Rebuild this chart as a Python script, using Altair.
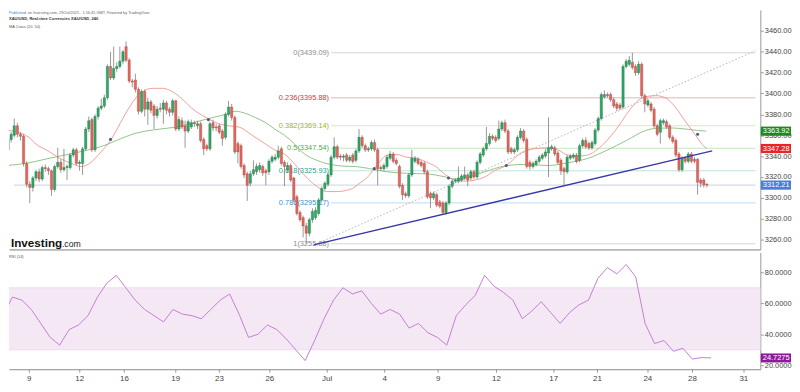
import altair as alt
import pandas as pd

# ---------------- data ----------------
opens = [
    3346, 3356, 3360, 3369, 3361, 3359, 3333, 3313, 3310, 3319,
    3325, 3318, 3329, 3328, 3326, 3308, 3330, 3334, 3327, 3329,
    3329, 3341, 3346, 3333, 3333, 3347, 3366, 3375, 3346, 3378,
    3386, 3388, 3396, 3426, 3415, 3424, 3426, 3431, 3445, 3432,
    3412, 3413, 3404, 3383, 3402, 3385, 3392, 3388, 3379, 3386,
    3385, 3391, 3385, 3382, 3393, 3366, 3374, 3369, 3364, 3368,
    3372, 3369, 3371, 3356, 3350, 3347, 3372, 3368, 3369, 3364,
    3358, 3380, 3387, 3377, 3352, 3350, 3331, 3323, 3314, 3323,
    3325, 3327, 3330, 3326, 3325, 3335, 3337, 3339, 3347, 3334,
    3327, 3331, 3319, 3301, 3286, 3281, 3273, 3266, 3279, 3281,
    3285, 3298, 3309, 3313, 3322, 3339, 3349, 3340, 3339, 3341,
    3336, 3341, 3336, 3345, 3358, 3350, 3346, 3347, 3353, 3346,
    3329, 3328, 3330, 3338, 3342, 3336, 3330, 3312, 3304, 3302,
    3322, 3335, 3337, 3334, 3333, 3325, 3304, 3300, 3303, 3296,
    3295, 3286, 3295, 3311, 3316, 3316, 3317, 3319, 3322, 3319,
    3325, 3320, 3334, 3341, 3347, 3352, 3359, 3358, 3357, 3366,
    3372, 3364, 3347, 3344, 3346, 3358, 3364, 3356, 3334, 3330,
    3332, 3335, 3338, 3340, 3343, 3347, 3348, 3343, 3336, 3328,
    3325, 3338, 3339, 3341, 3336, 3350, 3355, 3352, 3348, 3352,
    3365, 3376, 3397, 3399, 3399, 3394, 3390, 3389, 3387, 3426,
    3428, 3430, 3426, 3420, 3428, 3398, 3389, 3390, 3385, 3369,
    3363, 3372, 3373, 3369, 3358, 3355, 3342, 3327, 3338, 3335,
    3342, 3337, 3337, 3317, 3317, 3313]
closes = [
    3356, 3361, 3369, 3361, 3359, 3333, 3313, 3310, 3319, 3325,
    3318, 3329, 3328, 3326, 3308, 3330, 3334, 3327, 3329, 3330,
    3341, 3346, 3333, 3334, 3347, 3366, 3374, 3346, 3378, 3386,
    3388, 3396, 3426, 3415, 3424, 3426, 3431, 3440, 3432, 3412,
    3411, 3404, 3383, 3402, 3385, 3392, 3384, 3379, 3385, 3385,
    3391, 3384, 3382, 3393, 3366, 3375, 3368, 3364, 3373, 3372,
    3371, 3371, 3355, 3347, 3347, 3371, 3367, 3367, 3363, 3357,
    3380, 3387, 3377, 3344, 3344, 3330, 3322, 3312, 3323, 3327,
    3330, 3331, 3324, 3324, 3335, 3339, 3339, 3345, 3333, 3330,
    3331, 3317, 3298, 3285, 3279, 3273, 3266, 3279, 3287, 3288,
    3298, 3309, 3314, 3322, 3339, 3349, 3339, 3339, 3340, 3336,
    3339, 3335, 3345, 3358, 3350, 3346, 3347, 3353, 3346, 3328,
    3328, 3331, 3339, 3342, 3335, 3333, 3311, 3303, 3302, 3322,
    3338, 3338, 3333, 3331, 3325, 3301, 3300, 3304, 3293, 3292,
    3286, 3295, 3311, 3316, 3317, 3319, 3321, 3322, 3317, 3325,
    3320, 3334, 3342, 3347, 3352, 3359, 3357, 3355, 3366, 3372,
    3364, 3344, 3344, 3346, 3358, 3364, 3355, 3330, 3330, 3333,
    3335, 3339, 3341, 3344, 3348, 3349, 3342, 3334, 3326, 3325,
    3339, 3340, 3341, 3335, 3350, 3355, 3349, 3348, 3353, 3365,
    3376, 3399, 3399, 3398, 3394, 3388, 3386, 3386, 3426, 3431,
    3432, 3425, 3420, 3428, 3398, 3390, 3393, 3384, 3369, 3361,
    3374, 3374, 3368, 3358, 3354, 3341, 3327, 3338, 3335, 3342,
    3335, 3335, 3315, 3314, 3312.5, 3312.21]
highs = [
    3360, 3363, 3376, 3372, 3363, 3361, 3335, 3316, 3321, 3327,
    3328, 3331, 3332, 3330, 3327, 3332, 3348, 3337, 3347, 3332,
    3343, 3348, 3348, 3336, 3349, 3368, 3378, 3377, 3380, 3388,
    3395, 3399, 3428, 3440, 3445, 3430, 3445, 3442, 3450, 3434,
    3414, 3419, 3406, 3404, 3404, 3396, 3394, 3390, 3388, 3391,
    3394, 3393, 3387, 3395, 3394, 3378, 3377, 3374, 3375, 3375,
    3374, 3374, 3373, 3358, 3352, 3373, 3375, 3371, 3371, 3366,
    3382, 3393, 3390, 3379, 3354, 3352, 3333, 3325, 3326, 3336,
    3333, 3334, 3332, 3328, 3337, 3341, 3342, 3350, 3349, 3336,
    3334, 3333, 3320, 3303, 3288, 3283, 3276, 3281, 3290, 3291,
    3300, 3311, 3316, 3324, 3341, 3358, 3351, 3342, 3342, 3343,
    3341, 3343, 3347, 3366, 3360, 3352, 3349, 3355, 3356, 3348,
    3331, 3333, 3341, 3345, 3344, 3338, 3332, 3314, 3306, 3324,
    3346, 3340, 3339, 3336, 3335, 3327, 3306, 3306, 3305, 3298,
    3297, 3297, 3313, 3318, 3319, 3330, 3323, 3330, 3324, 3327,
    3327, 3336, 3344, 3349, 3368, 3362, 3361, 3360, 3374, 3374,
    3375, 3366, 3349, 3348, 3360, 3367, 3366, 3358, 3336, 3335,
    3337, 3341, 3343, 3347, 3377, 3351, 3350, 3345, 3338, 3330,
    3341, 3342, 3343, 3343, 3352, 3357, 3358, 3354, 3355, 3367,
    3378, 3401, 3403, 3401, 3401, 3396, 3392, 3391, 3428, 3433,
    3436, 3439.09, 3428, 3431, 3430, 3400, 3395, 3392, 3387, 3371,
    3376, 3376, 3375, 3371, 3360, 3357, 3344, 3340, 3340, 3344,
    3344, 3339, 3338, 3319, 3319, 3314]
lows = [
    3343, 3353, 3358, 3358, 3355, 3330, 3310, 3295, 3306, 3316,
    3315, 3316, 3325, 3322, 3302, 3306, 3328, 3324, 3325, 3317,
    3327, 3339, 3331, 3326, 3322, 3345, 3363, 3344, 3344, 3375,
    3384, 3386, 3394, 3413, 3413, 3421, 3424, 3428, 3430, 3410,
    3406, 3401, 3380, 3381, 3378, 3370, 3381, 3366, 3376, 3382,
    3371, 3380, 3378, 3379, 3364, 3364, 3366, 3348, 3362, 3366,
    3368, 3366, 3353, 3341, 3345, 3345, 3364, 3364, 3361, 3350,
    3356, 3378, 3374, 3342, 3333, 3328, 3319, 3297, 3311, 3321,
    3322, 3324, 3321, 3312, 3322, 3333, 3335, 3337, 3331, 3311,
    3324, 3315, 3296, 3283, 3277, 3262, 3255.88, 3263, 3276, 3279,
    3283, 3296, 3307, 3311, 3320, 3337, 3337, 3336, 3335, 3334,
    3334, 3333, 3334, 3343, 3348, 3344, 3344, 3345, 3344, 3312,
    3326, 3326, 3328, 3336, 3333, 3331, 3309, 3298, 3300, 3300,
    3320, 3333, 3331, 3329, 3323, 3299, 3290, 3298, 3291, 3290,
    3284, 3284, 3293, 3309, 3314, 3314, 3315, 3317, 3311, 3317,
    3318, 3318, 3332, 3339, 3345, 3350, 3355, 3353, 3355, 3364,
    3362, 3342, 3342, 3342, 3344, 3356, 3353, 3328, 3327, 3328,
    3330, 3333, 3336, 3338, 3320, 3345, 3340, 3332, 3322, 3312,
    3323, 3336, 3337, 3333, 3334, 3348, 3347, 3346, 3346, 3350,
    3363, 3374, 3395, 3396, 3392, 3386, 3383, 3384, 3385, 3424,
    3426, 3423, 3417, 3418, 3396, 3382, 3387, 3382, 3367, 3359,
    3352, 3370, 3366, 3356, 3352, 3339, 3325, 3325, 3333, 3333,
    3333, 3333, 3303, 3310, 3310, 3310]

# moving averages (candle index, price)
ma20_idx = [-0.6, 5.7, 9.7, 12.9, 16.0, 20.4, 23.6, 26.7, 29.9, 33.0,
            36.2, 39.3, 41.2, 43.4, 46.5, 49.7, 52.8, 56.0, 59.1, 63.8,
            67.9, 71.1, 74.2, 78.6, 82.7, 85.8, 89.0, 92.1, 95.3, 99.4,
            102.5, 105.7, 110.1, 113.2, 116.4, 117.9, 119.8, 122.0, 125.2, 128.3,
            131.4, 134.6, 137.7, 140.9, 144.0, 147.2, 150.3, 153.5, 156.6, 160.4,
            165.1, 169.2, 173.9, 177.0, 180.2, 183.3, 186.5, 189.6, 192.8, 195.9,
            199.1, 202.2, 205.3, 208.5, 211.6, 214.8, 217.9, 221.1, 224.2, 225.0]
ma20_val = [3365, 3360, 3350, 3345, 3339, 3333, 3330, 3334, 3344, 3355,
            3372, 3388, 3396, 3402, 3405, 3405, 3402, 3395, 3386, 3377,
            3371, 3369, 3368, 3360, 3352, 3346, 3342, 3333, 3322, 3311,
            3306, 3306, 3308, 3314, 3322, 3328, 3335, 3341, 3341.5, 3339,
            3338, 3334.5, 3330, 3322, 3317, 3316, 3317, 3320, 3326, 3331,
            3343, 3347, 3348, 3346, 3341, 3340, 3341, 3346, 3355, 3366,
            3380, 3391.5, 3397, 3398, 3396, 3387, 3374, 3361, 3349, 3347.28]
ma50_idx = [-0.6, 5.7, 11.9, 18.2, 24.5, 30.8, 34.9, 41.2, 46.5, 51.9,
            56.0, 59.7, 64.5, 70.1, 73.3, 76.4, 79.6, 82.7, 85.8, 89.0,
            92.1, 95.3, 99.4, 103.8, 107.9, 111.9, 116.4, 122.0, 128.3, 134.6,
            140.9, 144.0, 147.2, 153.5, 159.7, 166.0, 173.9, 180.2, 186.5, 192.8,
            199.1, 205.3, 209.4, 213.8, 217.9, 222.0, 224.8]
ma50_val = [3331, 3333, 3337, 3341, 3345, 3350, 3355, 3362, 3365, 3367,
            3369, 3372, 3376, 3380, 3383, 3381, 3377, 3372.5, 3366, 3360,
            3352, 3342.4, 3336, 3332, 3330.4, 3330, 3328, 3325, 3323.5, 3323,
            3320, 3318, 3319, 3325, 3330.4, 3332, 3331, 3333.6, 3337.7, 3345.6,
            3355, 3364.6, 3366.8, 3367, 3366, 3364.6, 3363.92]
cross_idx = [33.0, 64.5, 117.9, 141.8, 160.4, 222.0]
cross_price = [3356, 3375, 3328, 3319, 3331, 3361]

# Fibonacci retracement
fib_levels = ["0", "0.236", "0.382", "0.5", "0.618", "0.786", "1"]
fib_prices = [3439.09, 3395.88, 3369.14, 3347.54, 3325.93, 3295.17, 3255.88]
fib_text_colors = ["#8c8c8c", "#c8413c", "#9db22f", "#4fae4f", "#2f9f8f", "#3f8fc4", "#8c8c8c"]
fib_line_colors = ["#d6d6d6", "#e6b3b1", "#e2e8b4", "#c4e4c0", "#bfe2dc", "#c2dcec", "#d6d6d6"]

trend_idx = [98.4, 226.7]
trend_price = [3255, 3345]
diag_idx = [99.4, 240.6]
diag_price = [3256, 3441]

last_close = 3312.21
badge_vals = [3363.92, 3347.28, 3312.21]
badge_cols = ["#1e8a1e", "#ec2323", "#4a7fd8"]

# RSI read every third candle
rsi_vals = [52, 64, 62, 56, 47, 38, 33, 43, 46, 52,
            64, 73, 78, 70, 62, 56, 52, 48, 56, 53,
            52, 50, 56, 62, 66, 53, 38, 40, 46, 43,
            37, 30, 23, 36, 50, 62, 70, 66, 68, 60,
            53, 56, 53, 44, 47, 41, 38, 33, 52, 59,
            65, 78, 71, 67, 62, 50, 55, 61, 54, 47,
            54, 59, 62, 76, 83, 79, 85, 77, 47, 34,
            36, 29, 31, 24, 25, 24.7275]
rsi_last = 24.7275

tick_pos = [8.2, 24.2, 38.4, 54.7, 68.6, 84.6, 102.8, 121.1, 138.1, 156.6,
            174.8, 188.7, 204.7, 218.9, 235.2]
tick_text = ["9", "12", "16", "19", "23", "26", "Jul", "4", "9", "12",
             "17", "21", "24", "28", "31"]
price_ticks = [3260, 3280, 3300, 3320, 3340, 3360, 3380, 3400, 3420, 3440, 3460]
rsi_ticks = [20, 40, 60, 80]

# ---------------- layout / style ----------------
W, HP, HR = 759, 242, 118
X_DOMAIN = [1.9, 240.6]
P_DOMAIN = [3250.5, 3480.2]
R_DOMAIN = [17.45, 92.8]
FIB_X0 = 104.0
FONT = "Liberation Sans"
UP, UP_E = "#2fa866", "#1d7045"
DN, DN_E = "#e2675d", "#a8453d"

XS = alt.Scale(domain=X_DOMAIN, nice=False, zero=False)
PS = alt.Scale(domain=P_DOMAIN, nice=False, zero=False)
RS = alt.Scale(domain=R_DOMAIN, nice=False, zero=False)

XAX_P = alt.Axis(labels=False, ticks=False, title=None, grid=False,
                 domainColor="#7f7f7f", domainWidth=1)
PAX = alt.Axis(orient="right", values=price_ticks, format=".2f", title=None, grid=False,
               labelFontSize=7.5, labelColor="#444444", labelFont=FONT, tickSize=3,
               tickColor="#9a9a9a", domainColor="#9a9a9a", labelPadding=1)

pos_js = "[" + ",".join(str(v) for v in tick_pos) + "]"
lab_js = "[" + ",".join("'" + t + "'" for t in tick_text) + "]"
XAX_R = alt.Axis(values=tick_pos, labelExpr=lab_js + "[indexof(" + pos_js + ", datum.value)]",
                 title=None, grid=False, labelFontSize=8, labelColor="#444444", labelFont=FONT,
                 tickSize=3, tickColor="#9a9a9a", domainColor="#8a8a8a", labelPadding=2,
                 labelOverlap=False)
RAX = alt.Axis(orient="right", values=rsi_ticks, format=".4f", title=None, grid=False,
               labelFontSize=7.5, labelColor="#444444", labelFont=FONT, tickSize=3,
               tickColor="#9a9a9a", domainColor="#9a9a9a", labelPadding=1)


def px(f):
    return alt.X(f, scale=XS, axis=XAX_P)


def py(f):
    return alt.Y(f, scale=PS, axis=PAX)


def rx(f):
    return alt.X(f, scale=XS, axis=XAX_R)


def ry(f):
    return alt.Y(f, scale=RS, axis=RAX)


# ---------------- price panel ----------------
cdf = pd.DataFrame({"idx": list(range(len(closes))), "open": opens, "high": highs,
                    "low": lows, "close": closes})

fdf = pd.DataFrame({"price": fib_prices, "col": fib_line_colors, "tcol": fib_text_colors,
                    "label": [l + "(" + format(p, ".2f") + ")" for l, p in zip(fib_levels, fib_prices)],
                    "x0": FIB_X0, "x1": X_DOMAIN[1]})

fib_rule = alt.Chart(fdf).mark_rule(strokeWidth=1).encode(
    x=px("x0:Q"), x2="x1:Q", y=py("price:Q"), color=alt.Color("col:N", scale=None))
fib_text = alt.Chart(fdf).mark_text(align="right", baseline="middle", dx=-2,
                                     fontSize=7.5, font=FONT).encode(
    x=px("x0:Q"), y=py("price:Q"), text="label:N", color=alt.Color("tcol:N", scale=None))

ldf = pd.DataFrame({"y": [last_close], "x0": [X_DOMAIN[0]], "x1": [X_DOMAIN[1]]})
last_line = alt.Chart(ldf).mark_rule(color="#c9d1e2", strokeWidth=1).encode(
    x=px("x0:Q"), x2="x1:Q", y=py("y:Q"))

diag = alt.Chart(pd.DataFrame({"idx": diag_idx, "p": diag_price})).mark_line(
    color="#b3b3b3", strokeWidth=1, strokeDash=[1.5, 2], clip=True).encode(
    x=px("idx:Q"), y=py("p:Q"))

ma50 = alt.Chart(pd.DataFrame({"idx": ma50_idx, "p": ma50_val})).mark_line(
    color="#86bd7e", strokeWidth=0.9, interpolate="monotone", clip=True).encode(
    x=px("idx:Q"), y=py("p:Q"))
ma20 = alt.Chart(pd.DataFrame({"idx": ma20_idx, "p": ma20_val})).mark_line(
    color="#ee958d", strokeWidth=0.9, interpolate="monotone", clip=True).encode(
    x=px("idx:Q"), y=py("p:Q"))

wick = alt.Chart(cdf).mark_rule(color="#7d7d7d", strokeWidth=0.8, clip=True).encode(
    x=px("idx:Q"), y=py("low:Q"), y2="high:Q")
body = alt.Chart(cdf).mark_bar(size=2.3, clip=True, strokeWidth=0.4).encode(
    x=px("idx:Q"), y=py("open:Q"), y2="close:Q",
    color=alt.condition("datum.close >= datum.open", alt.value(UP), alt.value(DN)),
    stroke=alt.condition("datum.close >= datum.open", alt.value(UP_E), alt.value(DN_E)))

trend = alt.Chart(pd.DataFrame({"idx": trend_idx, "p": trend_price})).mark_line(
    color="#3a36a8", strokeWidth=1.3).encode(x=px("idx:Q"), y=py("p:Q"))

dots = alt.Chart(pd.DataFrame({"idx": cross_idx, "p": cross_price})).mark_point(
    filled=True, size=10, color="#55558a", opacity=1).encode(x=px("idx:Q"), y=py("p:Q"))

bdf = pd.DataFrame({"v": badge_vals, "bg": badge_cols,
                    "label": [format(v, ".2f") for v in badge_vals]})
badge_rect = alt.Chart(bdf).transform_calculate(
    hi="datum.v + 4.4", lo="datum.v - 4.4").mark_rect().encode(
    x=alt.value(W + 0.5), x2=alt.value(W + 31), y=py("hi:Q"), y2="lo:Q",
    color=alt.Color("bg:N", scale=None))
badge_text = alt.Chart(bdf).mark_text(color="white", fontSize=7.5, font=FONT,
                                       align="center", baseline="middle").encode(
    x=alt.value(W + 16), y=py("v:Q"), text="label:N")


def label(txt, x, y, size, color, weight="normal", baseline="top"):
    return alt.Chart(pd.DataFrame({"t": [txt]})).mark_text(
        align="left", baseline=baseline, fontSize=size, font=FONT, color=color,
        fontWeight=weight).encode(x=alt.value(x), y=alt.value(y), text="t:N")


hdr1a = label("Published", 0, 1, 3.9, "#3a78d8")
hdr1b = label("on Investing.com, 29/Jul/2025 - 1:16:45 GMT, Powered by TradingView", 19, 1, 3.9, "#666666")
hdr2 = label("XAU/USD, Real-time Currencies XAU/USD, 240", 0, 7, 4.1, "#333333", "bold")
hdr3 = label("MA Cross (20, 50)", 0, 15, 3.9, "#555555")
logo1 = label("Investing", 2, 240, 11.8, "#111111", "bold", "alphabetic")
logo2 = label(".com", 53.5, 240, 8.8, "#222222", "normal", "alphabetic")

price = alt.layer(
    fib_rule, last_line, diag, fib_text, ma50, ma20, wick, body, trend, dots,
    badge_rect, badge_text, hdr1a, hdr1b, hdr2, hdr3, logo1, logo2
).properties(width=W, height=HP)

# ---------------- RSI panel ----------------
rdf = pd.DataFrame({"idx": list(range(0, 3 * len(rsi_vals), 3)), "v": rsi_vals})
band_df = pd.DataFrame({"x0": [X_DOMAIN[0]], "x1": [X_DOMAIN[1]], "y0": [30], "y1": [70]})
band = alt.Chart(band_df).mark_rect(color="#f5e8f5").encode(
    x=rx("x0:Q"), x2="x1:Q", y=ry("y0:Q"), y2="y1:Q")
bl_df = pd.DataFrame({"y": [30, 70], "x0": X_DOMAIN[0], "x1": X_DOMAIN[1]})
band_lines = alt.Chart(bl_df).mark_rule(color="#e8d6ea", strokeWidth=0.8).encode(
    x=rx("x0:Q"), x2="x1:Q", y=ry("y:Q"))
rsi_line = alt.Chart(rdf).mark_line(color="#c27fd2", strokeWidth=1, clip=True).encode(
    x=rx("idx:Q"), y=ry("v:Q"))
rb_df = pd.DataFrame({"v": [rsi_last], "label": [format(rsi_last, ".4f")]})
rsi_badge = alt.Chart(rb_df).transform_calculate(
    hi="datum.v + 2.9", lo="datum.v - 2.9").mark_rect(color="#8b1c99").encode(
    x=alt.value(W + 0.5), x2=alt.value(W + 31), y=ry("hi:Q"), y2="lo:Q")
rsi_badge_text = alt.Chart(rb_df).mark_text(color="white", fontSize=7.5, font=FONT,
                                             align="center", baseline="middle").encode(
    x=alt.value(W + 16), y=ry("v:Q"), text="label:N")
rsi_title = label("RSI (14)", 0, 3, 4, "#555555")

rsi = alt.layer(band, band_lines, rsi_line, rsi_badge, rsi_badge_text, rsi_title).properties(
    width=W, height=HR)

chart = alt.vconcat(price, rsi, spacing=2).properties(
    padding=0, background="white"
).configure_view(strokeWidth=0)

chart.save("out.html", embed_options={"renderer": "svg", "actions": False})
